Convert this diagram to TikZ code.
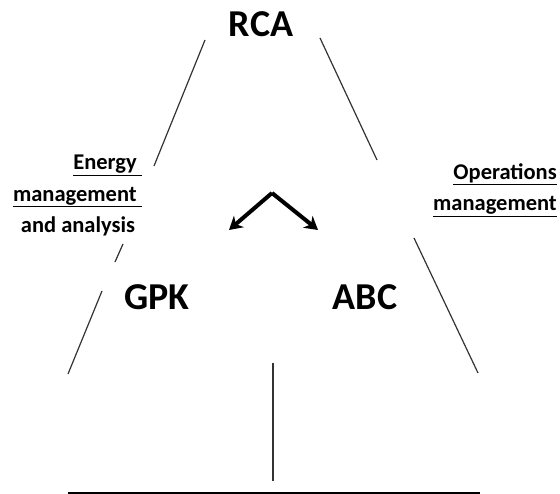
\documentclass[tikz,border=0pt]{standalone}
\usepackage{fontspec}
\setmainfont{Carlito}
\usepackage{tikz}
\usetikzlibrary{arrows.meta}
\tikzstyle{head} = [inner sep=0pt, font=\fontsize{38}{40}\selectfont\bfseries]
\tikzstyle{side} = [inner sep=0pt, align=right, font=\fontsize{22.5}{31.5}\selectfont\bfseries]
\tikzstyle{edge} = [line width=1.2pt, black!80]
\tikzstyle{base} = [line width=2pt, black]
\tikzstyle{arrow} = [line width=4pt,-{Stealth[length=13pt,width=15pt,inset=4pt]}]

\begin{document}
\begin{tikzpicture}[x=1pt, y=1pt]
        \useasboundingbox (0,0) rectangle (560,494);
        \node (rca) [head] at (261,470) {RCA};
        \node (gpk) [head] at (157,197) {GPK};
        \node (abc) [head] at (365,197) {ABC};
        \node (energy) [side, anchor=north east] at (142,339) {\underline{Energy~}\\\underline{management~}\\and analysis\hspace*{0.3em}};
        \node (operations) [side, anchor=north east] at (557,331) {\underline{Operations}\\\underline{management}};
        % side lines, broken by the labels
        \coordinate (l1) at (205,454); \coordinate (l2) at (154,328);
        \coordinate (l3) at (123,250); \coordinate (l4) at (115,232);
        \coordinate (l5) at (102,203); \coordinate (l6) at (68,120);
        \coordinate (r1) at (320,456); \coordinate (r2) at (377,334);
        \coordinate (r3) at (414,256); \coordinate (r4) at (478,121);
        \draw [edge] (l1) -- (l2);
        \draw [edge] (l3) -- (l4);
        \draw [edge] (l5) -- (l6);
        \draw [edge] (r1) -- (r2);
        \draw [edge] (r3) -- (r4);
        % stem and base
        \coordinate (stemtop) at (273,131); \coordinate (stembot) at (273,13);
        \coordinate (baseleft) at (68,1); \coordinate (baseright) at (480,1);
        \draw [edge] (stemtop) -- (stembot);
        \draw [base] (baseleft) -- (baseright);
        % split arrows
        \coordinate (apex) at (272,301);
        \coordinate (tipgpk) at (229,264); \coordinate (tipabc) at (318,264);
        \draw [arrow] (apex) -- (tipgpk);
        \draw [arrow] (apex) -- (tipabc);
      \end{tikzpicture}
\end{document}
